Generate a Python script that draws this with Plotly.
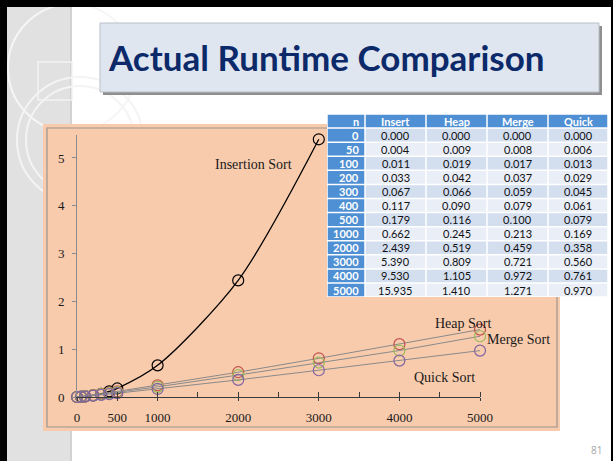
import plotly.graph_objects as go

# Measured runtimes (seconds) for each input size n
n_values = [0, 50, 100, 200, 300, 400, 500, 1000, 2000, 3000, 4000, 5000]
insert_times = [0.000, 0.004, 0.011, 0.033, 0.067, 0.117, 0.179, 0.662, 2.439, 5.390, 9.530, 15.935]
heap_times = [0.000, 0.009, 0.019, 0.042, 0.066, 0.090, 0.116, 0.245, 0.519, 0.809, 1.105, 1.410]
merge_times = [0.000, 0.008, 0.017, 0.037, 0.059, 0.079, 0.100, 0.213, 0.459, 0.721, 0.972, 1.271]
quick_times = [0.000, 0.006, 0.013, 0.029, 0.045, 0.061, 0.079, 0.169, 0.358, 0.560, 0.761, 0.970]

table_header = ["n", "Insert", "Heap", "Merge", "Quick"]
x_tick_values = [0, 500, 1000, 2000, 3000, 4000, 5000]
y_tick_values = [0, 1, 2, 3, 4, 5]

W, H = 613, 461


def px(x):
    return x / W


def py(y):
    return 1 - y / H


def rect(x0, y0, x1, y1, fill, line_color=None, line_width=0, layer="below"):
    return dict(type="rect", xref="paper", yref="paper", layer=layer,
                x0=px(x0), x1=px(x1), y0=py(y1), y1=py(y0),
                fillcolor=fill,
                line=dict(color=line_color or fill, width=line_width))


def ring(cx, cy, r, color, width):
    return dict(type="circle", xref="paper", yref="paper", layer="below",
                x0=px(cx - r), x1=px(cx + r), y0=py(cy + r), y1=py(cy - r),
                line=dict(color=color, width=width))


shapes = [
    # side strip with decorative rings
    rect(7, 7, 72, H, "#e1e1e1"),
    rect(70, 7, 72, H, "#d2d2d2"),
    ring(72, 68, 64, "#f6f6f6", 2),
    rect(38, 62, 72, 100, "rgba(0,0,0,0)", "#f2f2f2", 1.5),
    ring(80, 140, 63, "#f4f4f4", 2),
    ring(80, 140, 54, "#f4f4f4", 2),
    # title banner
    rect(103, 26, 602, 95, "#8f8f8f"),
    rect(100, 23, 599, 92, "#dfe6f0", "#b9bfc7", 1),
    # chart panel
    rect(43, 124, 560, 431, "#f8cbad"),
    rect(47, 128, 557, 427, "rgba(0,0,0,0)", "#9a9590", 1.2),
    # slide frame
    rect(0, 0, W, 7, "#000000"),
    rect(0, 0, 7, H, "#000000"),
    rect(611, 0, W, H, "#000000"),
]

annotations = []

# Data table: filled cells with text, laid out on a fixed grid
col_edges = [327, 365, 426, 487, 548, 608]
table_top, row_h = 114, 14.08
blue = "#4f8fd3"
band = ["#d3deef", "#e9eef7"]
cell_font = dict(family="Lato", size=11, color="#111111")
head_font = dict(family="Lato", size=11, color="white", weight="bold")
columns = [
    [str(n) for n in n_values],
    [f"{v:.3f}" for v in insert_times],
    [f"{v:.3f}" for v in heap_times],
    [f"{v:.3f}" for v in merge_times],
    [f"{v:.3f}" for v in quick_times],
]
shapes.append(rect(col_edges[0], table_top, col_edges[-1],
                   table_top + row_h * (len(n_values) + 1), "white", layer="above"))
for r in range(len(n_values) + 1):
    y0 = table_top + r * row_h
    y1 = y0 + row_h
    yc = (y0 + y1) / 2
    for c in range(len(columns)):
        x0, x1 = col_edges[c], col_edges[c + 1]
        if r == 0 or c == 0:
            fill = blue
        else:
            fill = band[(r - 1) % 2]
        shapes.append(rect(x0 + 0.75, y0 + 0.75, x1 - 0.75, y1 - 0.75, fill, layer="above"))
        text = table_header[c] if r == 0 else columns[c][r - 1]
        if c == 0:
            font = head_font
            ax, anchor = px(x1 - 4), "right"
        else:
            font = head_font if r == 0 else cell_font
            ax, anchor = px((x0 + x1) / 2), "center"
        annotations.append(dict(text=text, xref="paper", yref="paper", x=ax, y=py(yc),
                                xanchor=anchor, yanchor="middle", showarrow=False, font=font))

fig = go.Figure()

# Insertion sort grows too quickly; only the sizes up to 3000 fit the axis
ins_n = [n for n in n_values if n <= 3000]
ins_t = insert_times[:len(ins_n)]
fig.add_trace(go.Scatter(
    x=ins_n, y=ins_t, mode="lines+markers", cliponaxis=False,
    line=dict(color="#000000", width=1.3, shape="spline", smoothing=0.8),
    marker=dict(symbol="circle-open", size=11, color="#000000", line=dict(width=1.2)),
))

series = [
    (heap_times, "#c0504d"),
    (merge_times, "#9bbb59"),
    (quick_times, "#8064a2"),
]
for values, colour in series:
    fig.add_trace(go.Scatter(
        x=n_values, y=values, mode="lines+markers", cliponaxis=False,
        line=dict(color="#8a8a8a", width=1),
        marker=dict(symbol="circle-open", size=11, color=colour, line=dict(width=1.2)),
    ))

label_font = dict(family="Liberation Serif", size=14, color="#1a1a1a")
series_labels = [
    ("Insertion Sort", 253, 164),
    ("Heap Sort", 463, 323),
    ("Merge Sort", 518, 339),
    ("Quick Sort", 444, 377),
]
for text, lx, ly in series_labels:
    annotations.append(dict(text=text, xref="paper", yref="paper", x=px(lx), y=py(ly),
                            xanchor="center", yanchor="middle", showarrow=False,
                            font=label_font))

annotations += [
    dict(text="Actual Runtime Comparison", xref="paper", yref="paper",
         x=px(106), y=py(57), xanchor="left", yanchor="middle", showarrow=False,
         font=dict(family="Lato", size=35, color="#0c2a6a", weight="bold")),
    dict(text="81", xref="paper", yref="paper", x=px(596), y=py(450),
         xanchor="center", yanchor="middle",
         showarrow=False, font=dict(family="Open Sans", size=10, color="#a6a6a6")),
]

tick_font = dict(family="Liberation Serif", size=13, color="#1a1a1a")
fig.update_layout(
    width=W, height=H,
    margin=dict(l=0, r=0, t=0, b=0, autoexpand=False),
    paper_bgcolor="white",
    plot_bgcolor="rgba(0,0,0,0)",
    showlegend=False,
    shapes=shapes,
    annotations=annotations,
    xaxis=dict(
        domain=[px(77), px(480)], range=[0, 5000], automargin=False,
        showgrid=False, zeroline=False,
        showline=True, linecolor="#3a3a3a", linewidth=1.3,
        tickvals=x_tick_values, ticks="outside", ticklen=3, tickcolor="#3a3a3a",
        tickfont=tick_font, ticklabelstandoff=5,
        minor=dict(tickvals=list(range(500, 5001, 500)), ticks="inside",
                   ticklen=5, tickcolor="#3a3a3a"),
    ),
    yaxis=dict(
        domain=[py(397), py(135)], range=[0, 5.48], automargin=False,
        showgrid=False, zeroline=False,
        showline=True, linecolor="#8c8c8c", linewidth=1,
        tickvals=y_tick_values, ticks="outside", ticklen=4, tickcolor="#8c8c8c",
        tickfont=tick_font, ticklabelstandoff=5,
    ),
)

fig.write_html("out.html")
